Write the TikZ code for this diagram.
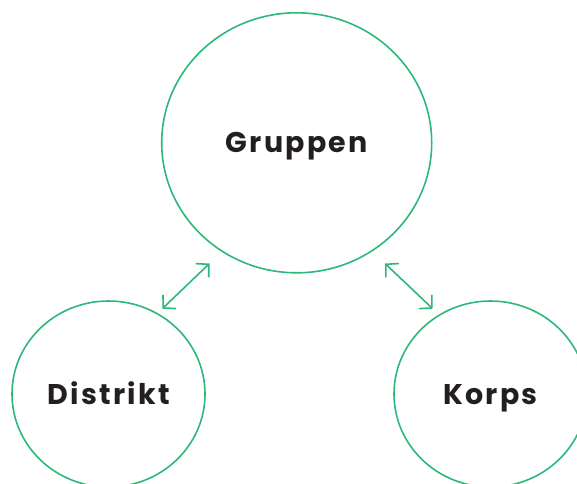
\documentclass[tikz,border=0pt]{standalone}
\usepackage{fontspec}
\usetikzlibrary{arrows.meta,shapes.geometric}
\newfontfamily\orgfont{Poppins}[LetterSpace=8]
\definecolor{orggreen}{RGB}{44,184,122}
\definecolor{orgtext}{RGB}{35,31,32}
\tikzset{
	unit/.style={ellipse, draw=orggreen, line width=1.6pt, text=orgtext, text height=20pt, text depth=0pt, font=\orgfont\bfseries\fontsize{28.5}{32}\selectfont},
	link/.style={orggreen, line width=1.6pt, {Straight Barb[length=9pt,width=19pt]}-{Straight Barb[length=9pt,width=19pt]}}
}
\begin{document}
\begin{tikzpicture}[x=1pt, y=-1pt, line join=round, line cap=round]
	\useasboundingbox (0,0) rectangle (577,483);
	\node[unit, minimum width=270pt, minimum height=260pt] (gruppen) at (296.7,142.8) {Gruppen};
	\node[unit, minimum width=193pt, minimum height=186pt] (distrikt) at (108.5,394) {Distrikt};
	\node[unit, minimum width=193pt, minimum height=186pt] (korps) at (490.5,394) {Korps};
	\coordinate (gd1) at (209.5,263.5);
	\coordinate (gd2) at (162.3,308.7);
	\coordinate (gk1) at (385,263.5);
	\coordinate (gk2) at (432.7,308.7);
	\draw[link] (gd1) -- (gd2);
	\draw[link] (gk1) -- (gk2);
\end{tikzpicture}
\end{document}
